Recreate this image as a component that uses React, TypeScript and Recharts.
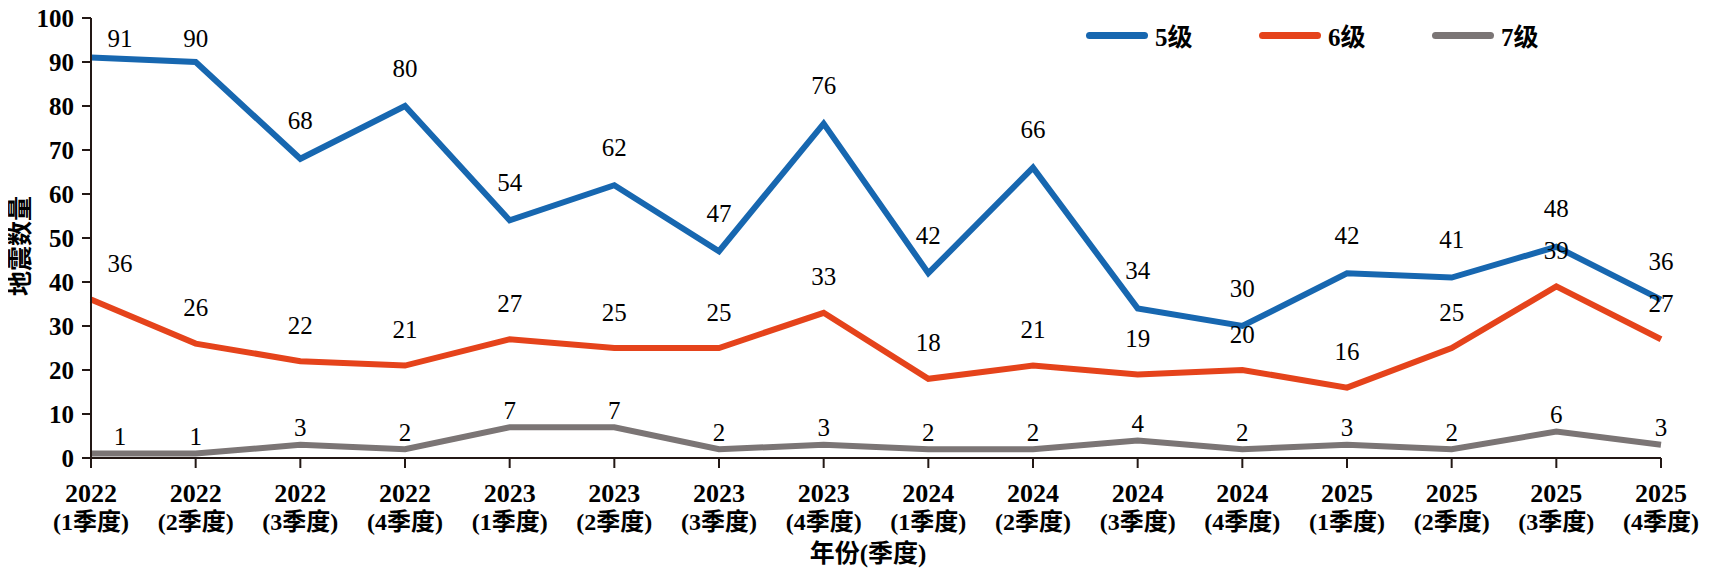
import React from "react";
import {
  LineChart,
  Line,
  XAxis,
  YAxis,
  Legend,
  LabelList,
  Label,
} from "recharts";

const YEARS = [
  "2022", "2022", "2022", "2022",
  "2023", "2023", "2023", "2023",
  "2024", "2024", "2024", "2024",
  "2025", "2025", "2025", "2025",
];
const QUARTERS = [
  "(1季度)", "(2季度)", "(3季度)", "(4季度)",
  "(1季度)", "(2季度)", "(3季度)", "(4季度)",
  "(1季度)", "(2季度)", "(3季度)", "(4季度)",
  "(1季度)", "(2季度)", "(3季度)", "(4季度)",
];

const LEVEL5 = [91, 90, 68, 80, 54, 62, 47, 76, 42, 66, 34, 30, 42, 41, 48, 36];
const LEVEL6 = [36, 26, 22, 21, 27, 25, 25, 33, 18, 21, 19, 20, 16, 25, 39, 27];
const LEVEL7 = [1, 1, 3, 2, 7, 7, 2, 3, 2, 2, 4, 2, 3, 2, 6, 3];

const Y_TICKS = [0, 10, 20, 30, 40, 50, 60, 70, 80, 90, 100];

const SERIES = [
  { key: "m5", name: "5级", color: "#1767b0", labelGap: 38 },
  { key: "m6", name: "6级", color: "#e5431b", labelGap: 36 },
  { key: "m7", name: "7级", color: "#7b7575", labelGap: 17 },
];

const FONT = "\"Liberation Serif\", \"Times New Roman\", \"Noto Sans CJK SC\", serif";
const AXIS_COLOR = "#231815";

const data = YEARS.map((y, i) => ({
  cat: `${y}|${QUARTERS[i]}`,
  m5: LEVEL5[i],
  m6: LEVEL6[i],
  m7: LEVEL7[i],
}));

const boldText = { fontFamily: FONT, fontWeight: 700 };
const plainText = { fontFamily: FONT, fontWeight: 400 };

function QuarterTick(props: any) {
  const { x, y, payload } = props;
  const [year, quarter] = String(payload.value).split("|");
  return (
    <g>
      <text x={x} y={y + 23} textAnchor="middle" dominantBaseline="central"
        style={{ ...boldText, fontSize: 26 }} fill="#000">
        {year}
      </text>
      <text x={x} y={y + 52} textAnchor="middle" dominantBaseline="central"
        style={{ ...boldText, fontSize: 24 }} fill="#000">
        {quarter}
      </text>
    </g>
  );
}

function makeValueLabel(gap: number) {
  return (props: any) => {
    const { x, y, value, index } = props;
    // first point label is pushed right so it clears the y axis
    const lx = index === 0 ? x + 29 : x;
    const ly = Math.max(y - gap, 30);
    return (
      <text x={lx} y={ly} textAnchor="middle" dominantBaseline="central"
        style={{ ...plainText, fontSize: 25 }} fill="#000">
        {value}
      </text>
    );
  };
}

function LegendContent(props: any) {
  const { payload } = props;
  return (
    <div style={{ display: "flex", alignItems: "center", height: 30 }}>
      {(payload || []).map((p: any) => (
        <div key={p.value}
          style={{ display: "flex", alignItems: "center", width: 173 }}>
          <span style={{
            display: "inline-block", width: 62, height: 7,
            borderRadius: 4, background: p.color, marginRight: 7,
          }} />
          <span style={{ ...boldText, fontSize: 25, color: "#000" }}>
            {p.value}
          </span>
        </div>
      ))}
    </div>
  );
}

export default function App() {
  return (
    <div style={{ width: 1705, height: 564 }}>
      <LineChart width={1705} height={564} data={data}
        margin={{ top: 10, right: 52, bottom: 0, left: 0 }}>
        <XAxis dataKey="cat" interval={0} height={114} tickSize={10} tickMargin={2}
          tick={<QuarterTick />}
          axisLine={{ stroke: AXIS_COLOR, strokeWidth: 2 }}
          tickLine={{ stroke: AXIS_COLOR, strokeWidth: 2 }}>
          <Label content={(p: any) => {
            const vb = p.viewBox;
            return (
              <text x={vb.x + vb.width / 2 - 8} y={545} textAnchor="middle"
                dominantBaseline="central" style={{ ...boldText, fontSize: 25 }}
                fill="#000">
                年份(季度)
              </text>
            );
          }} />
        </XAxis>
        <YAxis domain={[0, 100]} ticks={Y_TICKS} interval={0} width={83}
          tickSize={9} tickMargin={8}
          tick={{ style: { ...boldText, fontSize: 25 }, fill: "#000" }}
          axisLine={{ stroke: AXIS_COLOR, strokeWidth: 2 }}
          tickLine={{ stroke: AXIS_COLOR, strokeWidth: 2 }}>
          <Label content={(p: any) => {
            const vb = p.viewBox;
            const cx = 12;
            const cy = vb.y + vb.height / 2 + 8;
            return (
              <text x={cx} y={cy} textAnchor="middle" dominantBaseline="central"
                transform={`rotate(-90 ${cx} ${cy})`}
                style={{ ...boldText, fontSize: 25 }} fill="#000">
                地震数量
              </text>
            );
          }} />
        </YAxis>
        <Legend layout="horizontal" verticalAlign="middle" align="center"
          wrapperStyle={{ top: 12, left: 1078, width: "auto" }}
          content={<LegendContent />} />
        {SERIES.map((s) => (
          <Line key={s.key} type="linear" dataKey={s.key} name={s.name}
            stroke={s.color} strokeWidth={6} dot={false} activeDot={false}
            isAnimationActive={false}>
            <LabelList dataKey={s.key} content={makeValueLabel(s.labelGap)} />
          </Line>
        ))}
      </LineChart>
    </div>
  );
}
